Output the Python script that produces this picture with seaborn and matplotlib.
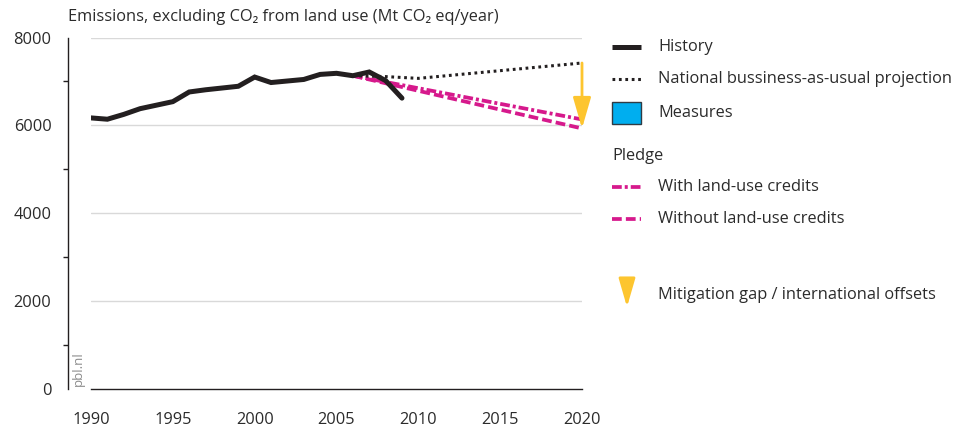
import matplotlib
matplotlib.use("Agg")
import matplotlib.pyplot as plt
from matplotlib.lines import Line2D
from matplotlib.patches import Rectangle
from matplotlib.ticker import MultipleLocator
import numpy as np
import pandas as pd
import seaborn as sns

# ---- data -------------------------------------------------------------
history_years = [1990, 1991, 1992, 1993, 1994, 1995, 1996, 1997, 1998, 1999,
                 2000, 2001, 2002, 2003, 2004, 2005, 2006, 2007, 2008, 2009]
history_values = [6170, 6140, 6250, 6380, 6460, 6540, 6760, 6810, 6850, 6890,
                  7100, 6975, 7010, 7045, 7160, 7185, 7130, 7215, 7020, 6620]

bau_years = [2006, 2008, 2010, 2020]
bau_values = [7130, 7110, 7070, 7420]

pledge_years = [2006, 2020]
pledge_with_credits = [7130, 6135]
pledge_without_credits = [7130, 5930]

gap_year = 2020
gap_top = 7420
gap_bottom = 5930

x_ticks = [1990, 1995, 2000, 2005, 2010, 2015, 2020]
y_ticks = [0, 2000, 4000, 6000, 8000]

title_text = "Emissions, excluding CO\u2082 from land use (Mt CO\u2082 eq/year)"
legend_labels = ["History", "National bussiness-as-usual projection", "Measures",
                 "Pledge", "With land-use credits", "Without land-use credits",
                 "Mitigation gap / international offsets"]

# ---- style ------------------------------------------------------------
sns.set_theme(style="white")
plt.rcParams["font.family"] = ["Open Sans", "DejaVu Sans"]

C_BLACK = "#231f20"
C_PINK = "#d6198c"
C_YELLOW = "#fdc52f"
C_BLUE = "#00aeef"
C_GRID = "#d9d9d9"
C_TEXT = "#2b2b2b"
FS = 11.8

W, H = 955, 429
PT = 72 / 100  # points per pixel at 100 dpi
fig = plt.figure(figsize=(W / 100, H / 100), dpi=100)

# plot area in pixel coordinates
px_l, px_r, px_t, px_b = 91, 582, 37.5, 389
ax = fig.add_axes([px_l / W, 1 - px_b / H, (px_r - px_l) / W, (px_b - px_t) / H])

hist_df = pd.DataFrame({"year": history_years, "value": history_values})
bau_df = pd.DataFrame({"year": bau_years, "value": bau_values})
pw_df = pd.DataFrame({"year": pledge_years, "value": pledge_with_credits})
pwo_df = pd.DataFrame({"year": pledge_years, "value": pledge_without_credits})

for yv in y_ticks[1:]:
    ax.axhline(yv, color=C_GRID, lw=1.0, zorder=0)

PINK_LW = 2.7
DASH = (0, (2.6, 1.1))
DASHDOT = (0, (2.6, 0.8, 0.8, 0.8))
DOT = (0, (0.9, 1.2))

sns.lineplot(data=pwo_df, x="year", y="value", ax=ax, color=C_PINK, lw=PINK_LW,
             linestyle=DASH, zorder=3)
sns.lineplot(data=pw_df, x="year", y="value", ax=ax, color=C_PINK, lw=PINK_LW,
             linestyle=DASHDOT, zorder=3)
sns.lineplot(data=bau_df, x="year", y="value", ax=ax, color=C_BLACK, lw=2.2,
             linestyle=DOT, zorder=4)
sns.lineplot(data=hist_df, x="year", y="value", ax=ax, color=C_BLACK, lw=3.6,
             zorder=5, solid_joinstyle="miter")

ARROW = "-|>,head_length=1.45,head_width=0.42"
ax.annotate("", xy=(gap_year, gap_bottom), xytext=(gap_year, gap_top),
            arrowprops=dict(arrowstyle=ARROW, color=C_YELLOW, lw=2.0,
                            shrinkA=0, shrinkB=0, mutation_scale=13),
            zorder=6)

ax.set_xlim(1990, 2020)
ax.set_ylim(0, 8000)
ax.set_xticks(x_ticks)
ax.set_yticks(y_ticks)
ax.yaxis.set_minor_locator(MultipleLocator(1000))
ax.set_xlabel("")
ax.set_ylabel("")

for s in ["top", "right"]:
    ax.spines[s].set_visible(False)
for s in ["left", "bottom"]:
    ax.spines[s].set_color(C_BLACK)
    ax.spines[s].set_linewidth(1.0)
ax.spines["left"].set_position(("outward", 23 * PT))

ax.tick_params(axis="both", which="major", direction="out", length=11 * PT,
               width=1.0, color=C_BLACK, labelsize=FS, labelcolor=C_TEXT)
ax.tick_params(axis="x", which="major", pad=9)
ax.tick_params(axis="y", which="major", pad=4)
ax.tick_params(axis="y", which="minor", direction="out", length=5 * PT,
               width=1.0, color=C_BLACK, left=True)
ax.tick_params(axis="x", which="minor", bottom=False)

fig.text(68 / W, 1 - 17 / H, title_text, fontsize=FS, color=C_TEXT,
         ha="left", va="center")
fig.text(78 / W, 1 - 369 / H, "pbl.nl", fontsize=9.5, color="#8c8c8c",
         rotation=90, ha="center", va="center")

# ---- legend drawn in pixel space ---------------------------------------
lg = fig.add_axes([0, 0, 1, 1], zorder=10)
lg.set_xlim(0, W)
lg.set_ylim(H, 0)
lg.axis("off")

hx0, hx1, tx = 612, 641, 658
rows = [47, 79, 113, 156, 187, 219, 295]

lg.add_line(Line2D([hx0, hx1], [rows[0]] * 2, color=C_BLACK, lw=3.6,
                   solid_capstyle="butt"))
lg.add_line(Line2D([hx0, hx1], [rows[1]] * 2, color=C_BLACK, lw=2.2,
                   linestyle=DOT))
lg.add_patch(Rectangle((hx0, rows[2] - 11), 29, 22, facecolor=C_BLUE,
                       edgecolor="#2f3b44", lw=1.0))
lg.add_line(Line2D([hx0, hx1], [rows[4]] * 2, color=C_PINK, lw=PINK_LW,
                   linestyle=DASHDOT))
lg.add_line(Line2D([hx0, hx1], [rows[5]] * 2, color=C_PINK, lw=PINK_LW,
                   linestyle=DASH))
lg.annotate("", xy=(627, 307), xytext=(627, 285),
            arrowprops=dict(arrowstyle=ARROW, color=C_YELLOW, lw=2.0,
                            shrinkA=0, shrinkB=0, mutation_scale=12))

for i, (lab, y) in enumerate(zip(legend_labels, rows)):
    x = hx0 if i == 3 else tx
    lg.text(x, y, lab, fontsize=FS, color=C_TEXT, ha="left", va="center")

fig.savefig("out.png", dpi=100)
